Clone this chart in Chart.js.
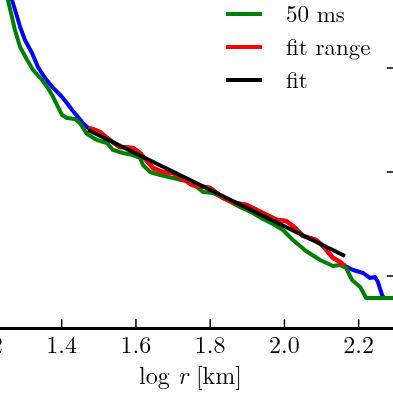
<!DOCTYPE html>
<html>
<head>
<meta charset="utf-8">
<script src="https://cdn.jsdelivr.net/npm/chart.js@4.4.0/dist/chart.umd.min.js"></script>
<style>
  html, body { margin: 0; padding: 0; background: #fff; }
  #wrap { position: relative; width: 393px; height: 393px; overflow: hidden; }
  #myChart { position: absolute; left: -60px; top: -50px; }
</style>
</head>
<body>
<div id="wrap"><canvas id="myChart" width="500" height="460"></canvas></div>
<script>
// tick values
const xTicks = [1.2, 1.4, 1.6, 1.8, 2.0, 2.2];
const yTicks = [1, 2, 3];

// blue curve, part before the fit range
const blueHeadX = [1.247, 1.266, 1.277, 1.288, 1.301, 1.320, 1.336, 1.355, 1.377, 1.401, 1.414, 1.428, 1.444, 1.457];
const blueHeadY = [3.894, 3.654, 3.529, 3.394, 3.269, 3.144, 3.010, 2.904, 2.808, 2.721, 2.663, 2.596, 2.529, 2.471];

// fit range (red)
const fitRangeX = [1.471, 1.490, 1.503, 1.522, 1.557, 1.592, 1.611, 1.646, 1.673, 1.700, 1.732, 1.751, 1.800, 1.835, 1.867, 1.899, 1.942, 1.980, 2.004, 2.023, 2.050, 2.085, 2.104, 2.131, 2.150, 2.163];
const fitRangeY = [2.423, 2.404, 2.385, 2.327, 2.240, 2.231, 2.183, 2.038, 2.000, 1.990, 1.923, 1.875, 1.846, 1.750, 1.702, 1.683, 1.606, 1.538, 1.529, 1.481, 1.385, 1.346, 1.288, 1.173, 1.135, 1.096];

// blue curve, part after the fit range
const blueTailX = [2.185, 2.212, 2.230, 2.244, 2.252, 2.263, 2.268, 2.311];
const blueTailY = [1.058, 1.029, 0.981, 0.990, 0.942, 0.817, 0.788, 0.788];

// 50 ms (green)
const greenX = [1.242, 1.255, 1.266, 1.274, 1.288, 1.307, 1.323, 1.347, 1.363, 1.377, 1.390, 1.401, 1.414, 1.436, 1.449, 1.468, 1.495, 1.522, 1.538, 1.565, 1.592, 1.611, 1.619, 1.638, 1.665, 1.700, 1.746, 1.781, 1.808, 1.845, 1.880, 1.915, 1.942, 1.969, 1.996, 2.023, 2.058, 2.096, 2.131, 2.150, 2.166, 2.182, 2.204, 2.220, 2.311];
const greenY = [3.846, 3.654, 3.490, 3.365, 3.202, 3.077, 2.981, 2.885, 2.808, 2.721, 2.625, 2.548, 2.519, 2.510, 2.471, 2.365, 2.308, 2.279, 2.212, 2.183, 2.163, 2.135, 2.067, 2.000, 1.971, 1.942, 1.904, 1.808, 1.798, 1.731, 1.663, 1.606, 1.548, 1.500, 1.442, 1.346, 1.240, 1.154, 1.096, 1.106, 1.077, 0.962, 0.894, 0.788, 0.788];

// fit line
const fitX = [1.471, 2.163];
const fitY = [2.404, 1.192];

const legendItems = ['50 ms', 'fit range', 'fit'];

function pts(xs, ys) {
  return xs.map((x, i) => ({x: x, y: ys[i]}));
}

const serif = "'Latin Modern Roman', 'Liberation Serif', serif";

// inward tick marks on the bottom and right side, like matplotlib
const tickMarks = {
  id: 'tickMarks',
  afterDraw(chart) {
    const ctx = chart.ctx, ca = chart.chartArea;
    const xs = chart.scales.x, ys = chart.scales.y;
    ctx.save();
    ctx.strokeStyle = '#000';
    ctx.lineWidth = 1.5;
    ctx.beginPath();
    xTicks.forEach(v => {
      const px = xs.getPixelForValue(v);
      ctx.moveTo(px, ca.bottom);
      ctx.lineTo(px, ca.bottom - 9);
    });
    yTicks.forEach(v => {
      const py = ys.getPixelForValue(v);
      ctx.moveTo(ca.right, py);
      ctx.lineTo(ca.right - 9, py);
    });
    ctx.stroke();
    ctx.restore();
  }
};

// legend in the upper right corner + axis title with italic r
const extras = {
  id: 'extras',
  afterDraw(chart) {
    const ctx = chart.ctx;
    const colors = ['#008000', '#ff0000', '#000000'];
    ctx.save();
    ctx.font = '23px ' + serif;
    ctx.textBaseline = 'middle';
    ctx.fillStyle = '#000';
    legendItems.forEach((t, i) => {
      const y = 64 + i * 33;
      ctx.strokeStyle = colors[i];
      ctx.lineWidth = 4;
      ctx.beginPath();
      ctx.moveTo(286, y);
      ctx.lineTo(322, y);
      ctx.stroke();
      ctx.fillText(t, 346, y + 1);
    });

    // x axis title: log r [km]
    const parts = [['log ', '24px '], ['r', 'italic 24px '], [' [km]', '24px ']];
    let w = 0;
    parts.forEach(p => { ctx.font = p[1] + serif; w += ctx.measureText(p[0]).width; });
    let x = 250.5 - w / 2;
    parts.forEach(p => {
      ctx.font = p[1] + serif;
      ctx.fillText(p[0], x, 427);
      x += ctx.measureText(p[0]).width;
    });
    ctx.restore();
  }
};

const ctx = document.getElementById('myChart');
new Chart(ctx, {
  type: 'line',
  data: {
    datasets: [
      {
        label: 'fit',
        data: pts(fitX, fitY),
        borderColor: '#000000',
        borderWidth: 4,
        order: 0
      },
      {
        label: 'fit range',
        data: pts(fitRangeX, fitRangeY),
        borderColor: '#ff0000',
        borderWidth: 4.5,
        order: 1
      },
      {
        label: '50 ms',
        data: pts(greenX, greenY),
        borderColor: '#008000',
        borderWidth: 4,
        order: 2
      },
      {
        label: 'blue',
        data: pts(blueHeadX.concat(fitRangeX, blueTailX), blueHeadY.concat(fitRangeY, blueTailY)),
        borderColor: '#0000ff',
        borderWidth: 4,
        order: 3
      }
    ]
  },
  options: {
    responsive: false,
    animation: false,
    devicePixelRatio: 1,
    elements: {
      point: { radius: 0 },
      line: { tension: 0, borderJoinStyle: 'round', fill: false }
    },
    layout: { padding: { left: 28.9, right: 44.2, top: 14, bottom: 0 } },
    plugins: {
      legend: { display: false },
      tooltip: { enabled: false }
    },
    scales: {
      x: {
        type: 'linear',
        min: 1.15,
        max: 2.3,
        afterBuildTicks(s) { s.ticks = xTicks.map(v => ({value: v})); },
        afterFit(s) { s.height = 82; },
        grid: { display: true, drawOnChartArea: false, drawTicks: false },
        border: { display: true, color: '#000', width: 3 },
        ticks: {
          autoSkip: false,
          maxRotation: 0,
          padding: 3,
          color: '#000',
          font: { family: serif, size: 24 },
          callback: v => v.toFixed(1)
        },
        title: { display: false }
      },
      y: {
        type: 'linear',
        min: 0.5,
        max: 4,
        display: false
      }
    }
  },
  plugins: [tickMarks, extras]
});
</script>
</body>
</html>
